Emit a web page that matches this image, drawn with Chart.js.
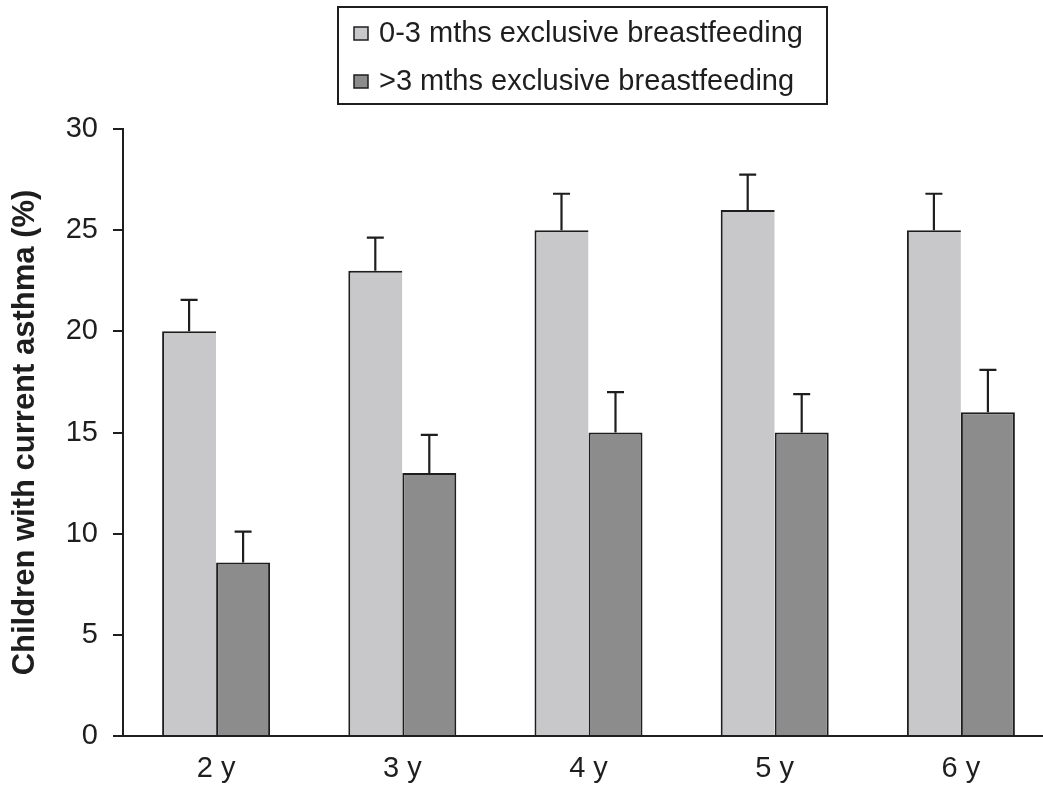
<!DOCTYPE html>
<html>
<head>
<meta charset="utf-8">
<script src="https://cdn.jsdelivr.net/npm/chart.js@4/dist/chart.umd.min.js"></script>
<style>
  html, body { margin: 0; padding: 0; background: #fff; overflow: hidden; }
  #wrap { width: 1043px; height: 788px; overflow: hidden; }
</style>
</head>
<body>
<div id="wrap"><canvas id="barChart" width="1056" height="788"></canvas></div>
<script>
const ages = ['2 y', '3 y', '4 y', '5 y', '6 y'];
const shortBf = [20, 23, 25, 26, 25];
const shortBfErr = [1.55, 1.63, 1.8, 1.75, 1.8];
const longBf = [8.57, 13, 15, 15, 16];
const longBfErr = [1.53, 1.88, 2.0, 1.9, 2.1];
const yTicks = [0, 5, 10, 15, 20, 25, 30];

const ink = '#1e1e1e';
const light = '#c8c8ca';
const dark = '#8c8c8c';
const font = "'Liberation Sans', Arial, sans-serif";

Chart.defaults.font.family = font;
Chart.defaults.color = ink;

const errors = [shortBfErr, longBfErr];

// upward-only error bars with a small cap
const errorBars = {
  id: 'errorBars',
  afterDatasetsDraw(chart) {
    const ctx = chart.ctx;
    const y = chart.scales.y;
    ctx.save();
    ctx.strokeStyle = ink;
    ctx.lineWidth = 2.2;
    chart.data.datasets.forEach((ds, i) => {
      const meta = chart.getDatasetMeta(i);
      meta.data.forEach((bar, j) => {
        const top = y.getPixelForValue(ds.data[j] + errors[i][j]);
        ctx.beginPath();
        ctx.moveTo(bar.x, bar.y);
        ctx.lineTo(bar.x, top);
        ctx.moveTo(bar.x - 8.5, top);
        ctx.lineTo(bar.x + 8.5, top);
        ctx.stroke();
      });
    });
    ctx.restore();
  }
};

// boxed legend, items stacked
const boxLegend = {
  id: 'boxLegend',
  afterDraw(chart) {
    const ctx = chart.ctx;
    ctx.save();
    ctx.strokeStyle = ink;
    ctx.lineWidth = 2;
    ctx.strokeRect(338, 7, 489, 97);
    ctx.font = '29px ' + font;
    ctx.textBaseline = 'middle';
    chart.data.datasets.forEach((ds, i) => {
      const cy = 33 + i * 48;
      ctx.fillStyle = ds.backgroundColor;
      ctx.fillRect(354, cy - 6, 14, 13);
      ctx.lineWidth = 1.5;
      ctx.strokeRect(354, cy - 6, 14, 13);
      ctx.fillStyle = ink;
      ctx.fillText(ds.label, 379, cy + 1);
    });
    ctx.restore();
  }
};

new Chart(document.getElementById('barChart'), {
  type: 'bar',
  data: {
    labels: ages,
    datasets: [
      {
        label: '0-3 mths exclusive breastfeeding',
        data: shortBf,
        backgroundColor: light,
        borderColor: ink,
        borderWidth: { top: 2, left: 2, right: 0, bottom: 0 },
        borderSkipped: false
      },
      {
        label: '>3 mths exclusive breastfeeding',
        data: longBf,
        backgroundColor: dark,
        borderColor: ink,
        borderWidth: { top: 2, left: 2, right: 2, bottom: 0 },
        borderSkipped: false
      }
    ]
  },
  options: {
    responsive: false,
    animation: false,
    devicePixelRatio: 1,
    layout: { padding: { top: 129, right: 2, bottom: 0, left: 0 } },
    datasets: { bar: { categoryPercentage: 0.58, barPercentage: 1.0 } },
    plugins: {
      legend: { display: false },
      tooltip: { enabled: false }
    },
    scales: {
      x: {
        grid: { display: false, drawTicks: false },
        border: { display: true, color: ink, width: 2 },
        ticks: { font: { size: 29 }, color: ink, padding: 16 },
        afterFit(scale) { scale.height = 52; }
      },
      y: {
        min: 0,
        max: 30,
        afterBuildTicks(scale) { scale.ticks = yTicks.map(v => ({ value: v })); },
        grid: { drawOnChartArea: false, drawTicks: true, tickLength: 10, color: ink, lineWidth: 2 },
        border: { display: true, color: ink, width: 2 },
        ticks: { font: { size: 29 }, color: ink, padding: 15 },
        title: {
          display: true,
          text: 'Children with current asthma (%)',
          font: { size: 31, weight: 'bold' },
          color: ink,
          padding: { top: 7, bottom: 0 }
        },
        afterFit(scale) { scale.width = 123; }
      }
    }
  },
  plugins: [errorBars, boxLegend]
});
</script>
</body>
</html>
